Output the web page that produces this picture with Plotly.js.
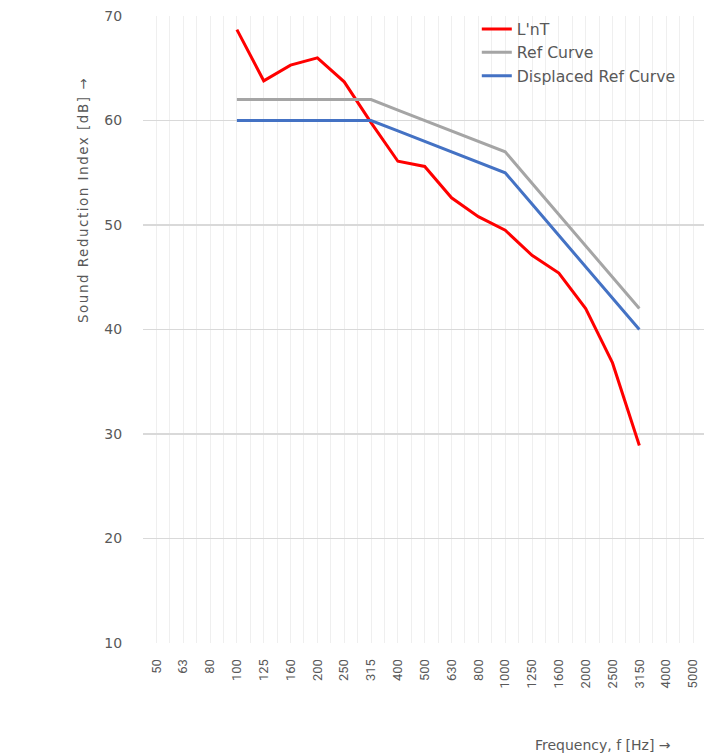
<!DOCTYPE html>
<html>
<head>
<meta charset="utf-8">
<script src="https://cdn.plot.ly/plotly-3.0.1.min.js"></script>
<style>
html,body{margin:0;padding:0;background:#fff;}
#chart{width:704px;height:756px;}
#chart g.annotation[data-index="0"] text.annotation-text{letter-spacing:1.5px;}
</style>
</head>
<body>
<div id="chart"></div>
<script>
const categories = ["50","63","80","100","125","160","200","250","315","400","500","630","800","1000","1250","1600","2000","2500","3150","4000","5000"];
const seriesCategories = ["100","125","160","200","250","315","400","500","630","800","1000","1250","1600","2000","2500","3150"];
const lnT = [68.7, 63.8, 65.3, 66.0, 63.7, 59.8, 56.1, 55.6, 52.6, 50.8, 49.5, 47.1, 45.4, 42.0, 36.8, 28.9];
const refCurve = [62, 62, 62, 62, 62, 62, 61, 60, 59, 58, 57, 54, 51, 48, 45, 42];
const displacedRef = [60, 60, 60, 60, 60, 60, 59, 58, 57, 56, 55, 52, 49, 46, 43, 40];
const yTicks = [10, 20, 30, 40, 50, 60, 70];

const xIdx = seriesCategories.map(c => categories.indexOf(c));
const catIdx = categories.map((c, i) => i);
const dejavu = "'DejaVu Sans', sans-serif";
const roboto = "Roboto, 'Liberation Sans', sans-serif";
const textColor = "#595959";

const traces = [
  {x: xIdx, y: lnT, name: "L'nT", mode: "lines", line: {color: "#FF0000", width: 3}, legendgroup: "a"},
  {x: xIdx, y: refCurve, name: "Ref Curve", mode: "lines", line: {color: "#A5A5A5", width: 3}, legendgroup: "b"},
  {x: xIdx, y: displacedRef, name: "Displaced Ref Curve", mode: "lines", line: {color: "#4472C4", width: 3}, legendgroup: "c"}
];

const layout = {
  width: 704, height: 756,
  margin: {l: 143, r: 0, t: 16, b: 113},
  paper_bgcolor: "#fff", plot_bgcolor: "#fff",
  font: {family: dejavu, color: textColor, size: 14},
  showlegend: true,
  legend: {x: 0.595, xanchor: "left", y: 1.006, yanchor: "top", bgcolor: "rgba(0,0,0,0)",
           font: {family: dejavu, size: 15.7, color: textColor}, tracegroupgap: 0, itemwidth: 30},
  xaxis: {
    range: [-0.5, 20.41], tickmode: "array", tickvals: catIdx, ticktext: categories,
    tickangle: -90, tickfont: {family: roboto, size: 13, color: textColor},
    ticks: "outside", ticklen: 10, tickcolor: "rgba(0,0,0,0)",
    showgrid: true, gridcolor: "#EFEFEF", gridwidth: 1, zeroline: false, showline: false,
    minor: {tickmode: "linear", tick0: 0.5, dtick: 1, showgrid: true, gridcolor: "#EFEFEF", gridwidth: 1, ticks: ""},
    fixedrange: true
  },
  yaxis: {
    range: [10, 70], tickmode: "array", tickvals: yTicks, ticktext: yTicks.map(String),
    tickfont: {family: dejavu, size: 14, color: textColor},
    ticks: "outside", ticklen: 17, tickcolor: "rgba(0,0,0,0)",
    showgrid: true, gridcolor: "#D9D9D9", gridwidth: 1.5, zeroline: false, showline: false,
    fixedrange: true
  },
  annotations: [
    {text: "Sound Reduction Index [dB] →", xref: "paper", yref: "paper", x: -0.107, y: (643 - 200) / 627,
     xanchor: "center", yanchor: "middle", textangle: -90, showarrow: false,
     font: {family: dejavu, size: 13.5, color: textColor}},
    {text: "Frequency, f [Hz] →", xref: "paper", yref: "paper", x: (673 - 143) / 561, y: -(745 - 643) / 627,
     xanchor: "right", yanchor: "middle", showarrow: false,
     font: {family: dejavu, size: 14, color: textColor}}
  ]
};

Plotly.newPlot("chart", traces, layout, {displayModeBar: false, staticPlot: true});
</script>
</body>
</html>
